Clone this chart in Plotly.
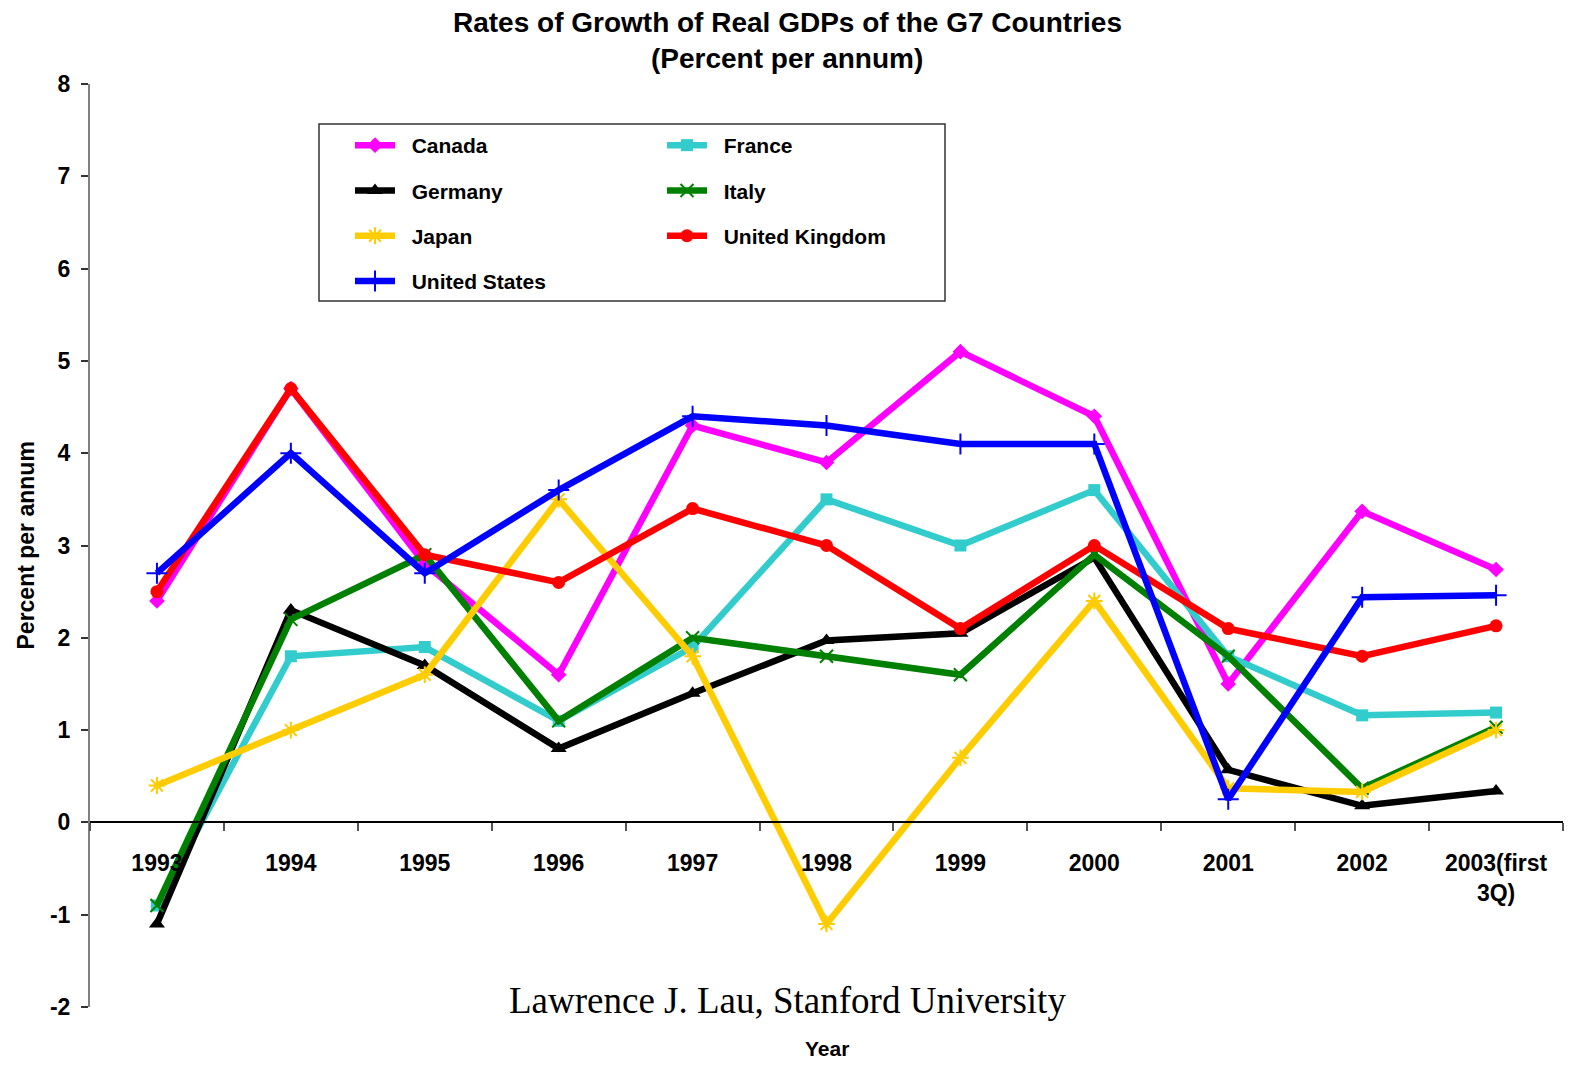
import plotly.graph_objects as go

years = ["1993", "1994", "1995", "1996", "1997", "1998", "1999", "2000", "2001", "2002", "2003(first<br>3Q)"]

canada = [2.4, 4.7, 2.8, 1.6, 4.3, 3.9, 5.1, 4.4, 1.5, 3.37, 2.74]
france = [-0.9, 1.8, 1.9, 1.1, 1.9, 3.5, 3.0, 3.6, 1.8, 1.16, 1.19]
germany = [-1.1, 2.3, 1.7, 0.8, 1.4, 1.97, 2.05, 2.87, 0.57, 0.18, 0.34]
italy = [-0.9, 2.2, 2.9, 1.1, 2.0, 1.8, 1.6, 2.9, 1.8, 0.37, 1.03]
japan = [0.4, 1.0, 1.6, 3.5, 1.8, -1.1, 0.7, 2.4, 0.37, 0.33, 1.0]
uk = [2.5, 4.7, 2.9, 2.6, 3.4, 3.0, 2.1, 3.0, 2.1, 1.8, 2.13]
us = [2.7, 4.0, 2.7, 3.6, 4.4, 4.3, 4.1, 4.1, 0.25, 2.44, 2.46]

y_tick_vals = [-2, -1, 0, 1, 2, 3, 4, 5, 6, 7, 8]
y_tick_text = ["-2", "-1", "0", "1", "2", "3", "4", "5", "6", "7", "8"]

series = [
    ("Canada", canada, "#FF00FF", dict(symbol="diamond", size=12), "legend"),
    ("France", france, "#33CCCC", dict(symbol="square", size=12), "legend2"),
    ("Germany", germany, "#000000", dict(symbol="triangle-up", size=14), "legend"),
    ("Italy", italy, "#008000", dict(symbol="x-thin-open", size=13, line=dict(width=2, color="#008000")), "legend2"),
    ("Japan", japan, "#FFCC00", dict(symbol="asterisk-open", size=14, line=dict(width=2, color="#FFCC00")), "legend"),
    ("United Kingdom", uk, "#FF0000", dict(symbol="circle", size=13), "legend2"),
    ("United States", us, "#0000FF", dict(symbol="cross-thin-open", size=15, line=dict(width=2, color="#0000FF")), "legend"),
]

SANS = "Liberation Sans, Arial, sans-serif"
NB = "\u00a0\u00a0"

fig = go.Figure()
for name, vals, color, marker, leg in series:
    m = dict(color=color, **marker)
    fig.add_trace(go.Scatter(
        x=years, y=vals, name=NB + name, mode="lines+markers",
        line=dict(color=color, width=6.5), marker=m,
        legend=leg, legendgroup=name,
    ))

W, H = 1575, 1065
L, R, T, B = 90, 12, 84, 58
pw, ph = W - L - R, H - T - B

def px_x(x):
    return (x - L) / pw

def px_y(y):
    return (H - B - y) / ph

legend_common = dict(
    orientation="v", xanchor="left", yanchor="top",
    font=dict(family=SANS, size=21, color="black", weight="bold"),
    bgcolor="rgba(0,0,0,0)", borderwidth=0,
    traceorder="grouped", tracegroupgap=15, itemwidth=40,
)

bold23 = dict(family=SANS, size=23, color="black", weight="bold")

fig.update_layout(
    width=W, height=H,
    margin=dict(l=L, r=R, t=T, b=B),
    paper_bgcolor="white", plot_bgcolor="white",
    font=dict(family=SANS, color="black"),
    legend=dict(x=px_x(350), y=px_y(125), **legend_common),
    legend2=dict(x=px_x(662), y=px_y(125), **legend_common),
    xaxis=dict(
        type="category", range=[-0.5, 10.5],
        anchor="free", position=0.2,
        showline=True, linecolor="black", linewidth=1.5,
        ticks="outside", tickson="boundaries", ticklen=8, tickcolor="#555555", tickwidth=1.5,
        ticklabelstandoff=20,
        tickfont=bold23,
        showgrid=False, zeroline=False,
    ),
    yaxis=dict(
        range=[-2, 8], tickmode="array", tickvals=y_tick_vals, ticktext=y_tick_text,
        showline=True, linecolor="#808080", linewidth=2,
        ticks="outside", ticklen=7, tickcolor="#333333", tickwidth=1.5,
        ticklabelstandoff=6,
        tickfont=bold23,
        showgrid=False, zeroline=False,
    ),
    shapes=[dict(
        type="rect", xref="paper", yref="paper",
        x0=px_x(319), x1=px_x(945), y0=px_y(301), y1=px_y(124),
        line=dict(color="#333333", width=1.5), fillcolor="rgba(0,0,0,0)", layer="above",
    )],
    annotations=[
        dict(text="<b>Rates of Growth of Real GDPs of the G7 Countries</b>", xref="paper", yref="paper",
             x=px_x(787), y=px_y(22), xanchor="center", yanchor="middle",
             showarrow=False, font=dict(family=SANS, size=28, color="black")),
        dict(text="<b>(Percent per annum)</b>", xref="paper", yref="paper",
             x=px_x(787), y=px_y(58), xanchor="center", yanchor="middle",
             showarrow=False, font=dict(family=SANS, size=28, color="black")),
        dict(text="Percent per annum", xref="paper", yref="paper",
             x=px_x(25), y=0.5, xanchor="center", yanchor="middle", textangle=-90,
             showarrow=False, font=bold23),
        dict(text="Lawrence J. Lau, Stanford University", xref="paper", yref="paper",
             x=px_x(787), y=px_y(1000), xanchor="center", yanchor="middle",
             showarrow=False, font=dict(family="Liberation Serif, Times New Roman, serif", size=37, color="black")),
        dict(text="Year", xref="paper", yref="paper",
             x=0.5, y=px_y(1048), xanchor="center", yanchor="middle",
             showarrow=False, font=dict(family=SANS, size=21, color="black", weight="bold")),
    ],
)

fig.write_html("out.html", config={"displayModeBar": False},
               post_script="document.body.style.margin='0';document.body.style.padding='0';")
